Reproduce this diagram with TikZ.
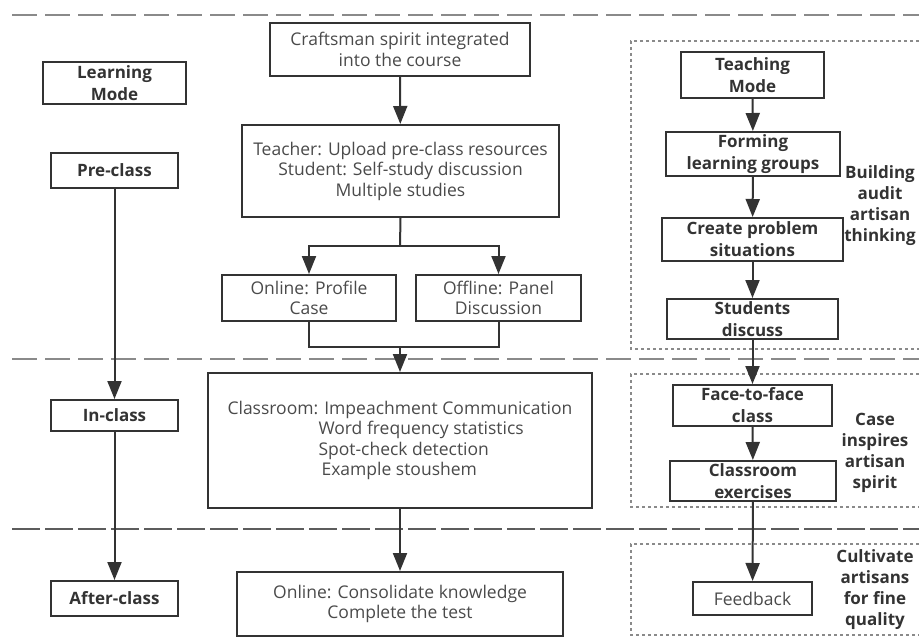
\documentclass[tikz,border=0pt]{standalone}
\usepackage{fontspec}
\setmainfont{Open Sans}
\usepackage{tikz}
\usetikzlibrary{positioning}
\usetikzlibrary{calc}
\usetikzlibrary{arrows.meta}
\definecolor{linecol}{HTML}{333333}
\definecolor{txtcol}{HTML}{4A4A4A}
\definecolor{sepcol}{HTML}{8A8A8A}
\tikzset{
  box/.style={draw=linecol, line width=2pt, rectangle, inner sep=0pt,
    align=center, text=txtcol, font=\fontsize{17.5}{20.5}\selectfont},
  boldbox/.style={box, text=linecol, font=\fontsize{17}{22}\selectfont\bfseries},
  note/.style={align=center, text=linecol, font=\fontsize{17}{21}\selectfont\bfseries},
  arr/.style={draw=linecol, line width=2pt, -{Triangle[length=18pt,width=14pt]}},
  link/.style={draw=linecol, line width=2pt},
  sep/.style={draw=sepcol, line width=1.6pt, dash pattern=on 25pt off 8pt},
  sepb/.style={draw=linecol!80, line width=1.3pt, dash pattern=on 28pt off 5pt},
  zone/.style={draw=sepcol, line width=1.1pt, dash pattern=on 3pt off 3pt}
}

\begin{document}
\begin{tikzpicture}[x=1pt, y=-1pt]
\useasboundingbox (0,0) rectangle (919,642);

% --- Stage separators ---
\draw[sep] (12,15) -- (919,15);
\draw[sep] (12,359) -- (919,359);
\draw[sepb] (12,529) -- (919,529);

% --- Dotted zones on the right ---
\foreach \top/\bot in {41/349, 374/507, 544/635}{
  \draw[zone] (919,\top) -- (631,\top) -- (631,\bot) -- (919,\bot);
}

% --- Learning mode column ---
\node[boldbox, minimum width=143pt, minimum height=42pt] (learn) at (114.5,83) {Learning\\Mode};
\node[boldbox, minimum width=127pt, minimum height=35pt] (pre) at (114.5,170.5) {Pre-class};
\node[boldbox, minimum width=127pt, minimum height=31pt] (inclass) at (114.5,415.5) {In-class};
\node[boldbox, minimum width=127pt, minimum height=35pt] (after) at (114.5,598.5) {After-class};

% --- Course column ---
\node[box, minimum width=260pt, minimum height=53pt] (craft) at (400,49.5)
  {Craftsman spirit integrated\\into the course};
\node[box, minimum width=317pt, minimum height=92pt] (teacher) at (400.5,171)
  {Teacher: Upload pre-class resources\\Student: Self-study discussion\\Multiple studies};
\node[box, minimum width=174pt, minimum height=46pt] (online) at (309,298)
  {Online: Profile\\Case};
\node[box, minimum width=165pt, minimum height=46pt] (offline) at (498.5,298)
  {Offline: Panel\\Discussion};
\node[box, align=left, minimum width=384pt, minimum height=135pt] (classroom) at (400,440.5)
  {Classroom: Impeachment Communication\\
   \hspace*{91pt}Word frequency statistics\\
   \hspace*{91pt}Spot-check detection\\
   \hspace*{94pt}Example stoushem};
\node[box, minimum width=326pt, minimum height=64pt] (consol) at (400,604)
  {Online: Consolidate knowledge\\Complete the test};

% --- Teaching mode column ---
\node[boldbox, minimum width=143pt, minimum height=46pt] (teach) at (752.5,75) {Teaching\\Mode};
\node[boldbox, minimum width=174pt, minimum height=44pt] (forming) at (753,154) {Forming\\learning groups};
\node[boldbox, minimum width=181pt, minimum height=43pt] (create) at (752.5,239.5) {Create problem\\situations};
\node[boldbox, minimum width=171pt, minimum height=40pt] (students) at (752.5,319) {Students\\discuss};
\node[boldbox, minimum width=159pt, minimum height=41pt] (face) at (752.5,405.5) {Face-to-face\\class};
\node[boldbox, minimum width=166pt, minimum height=40pt] (exer) at (753,481) {Classroom\\exercises};
\node[box, minimum width=119pt, minimum height=33pt] (feedback) at (752.5,598.5) {Feedback};

% --- Zone notes ---
\node[note] (build) at (880,206) {Building\\audit\\artisan\\thinking};
\node[note] (case) at (875,453) {Case\\inspires\\artisan\\spirit};
\node[note] (cult) at (875,590) {Cultivate\\artisans\\for fine\\quality};

% --- Straight arrows ---
\foreach \a/\b in {pre/inclass, inclass/after, craft/teacher, classroom/consol,
  teach/forming, forming/create, create/students, students/face, face/exer, exer/feedback}{
  \draw[arr] (\a) -- (\b);
}

% --- Fork into online / offline ---
\coordinate (fork) at (400,246);
\draw[link] (teacher.south) -- (fork);
\draw[arr] (fork) -| (online.north);
\draw[arr] (fork) -| (offline.north);

% --- Merge into classroom ---
\coordinate (merge) at (400,347);
\draw[link] (online.south) |- (merge);
\draw[link] (offline.south) |- (merge);
\draw[arr] (merge) -- (classroom.north);

\end{tikzpicture}
\end{document}
